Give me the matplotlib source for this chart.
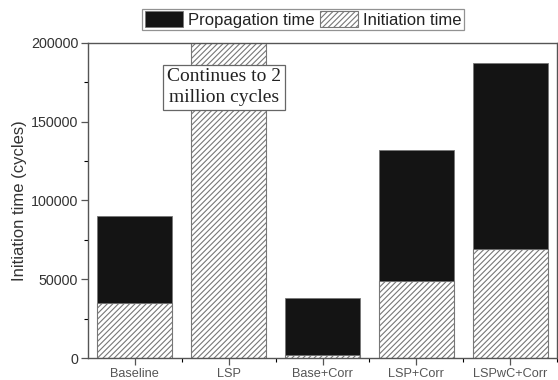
import numpy as np
import matplotlib
matplotlib.use("Agg")
import matplotlib.pyplot as plt
from matplotlib.ticker import MultipleLocator

categories = ["Baseline", "LSP", "Base+Corr", "LSP+Corr", "LSPwC+Corr"]
initiation = [35000, 2000000, 2000, 49000, 69000]
propagation = [55000, 0, 36000, 83000, 118000]

plt.rcParams['font.family'] = ['Liberation Sans', 'DejaVu Sans']
plt.rcParams['hatch.color'] = '#777777'
plt.rcParams['hatch.linewidth'] = 0.8

fig = plt.figure(figsize=(5.58, 3.8), dpi=100)
ax = fig.add_axes([88 / 558, 22 / 380, 469 / 558, 315 / 380])

x = np.arange(len(categories))
b1 = ax.bar(x, initiation, width=0.8, color='white', edgecolor='#777777',
            hatch='//////', linewidth=0.8, label='Initiation time', zorder=2)
b2 = ax.bar(x, propagation, width=0.8, bottom=initiation, color='#141414',
            edgecolor='#777777', linewidth=0.6, label='Propagation time', zorder=2)

ax.set_xlim(-0.5, 4.5)
ax.set_ylim(0, 200000)
ax.set_xticks(x)
ax.set_xticklabels(categories, fontsize=9.2, color='#222222')
ax.set_xticks(x + 0.5, minor=True)
ax.set_yticks([0, 50000, 100000, 150000, 200000])
ax.yaxis.set_minor_locator(MultipleLocator(25000))
ax.tick_params(axis='y', labelsize=10.3, colors='#555555', labelcolor='#333333', pad=2)
ax.tick_params(axis='x', colors='#555555', pad=2.5)
ax.tick_params(which='major', direction='out', length=5, width=0.9)
ax.tick_params(which='minor', direction='out', length=3, width=0.8)
for s in ax.spines.values():
    s.set_color('#555555')
    s.set_linewidth(1.0)

ax.set_ylabel('Initiation time (cycles)', fontsize=12, color='#333333')
ax.yaxis.set_label_coords(-(88 - 27) / 469, 0.5)

ax.text(0.95, 172000, 'Continues to 2\nmillion cycles', family='Liberation Serif',
        fontsize=14, ha='center', va='center', color='#222222', linespacing=1.25,
        bbox=dict(boxstyle='square,pad=0.2', facecolor='white', edgecolor='#666666', linewidth=0.9),
        zorder=3)

leg = fig.legend(handles=[b2, b1], labels=['Propagation time', 'Initiation time'],
                 loc='center', bbox_to_anchor=(303 / 558, 1 - 19.5 / 380), ncol=2,
                 fontsize=12, frameon=True, fancybox=False, edgecolor='#777777',
                 handlelength=2.3, handleheight=1.1, columnspacing=0.3,
                 handletextpad=0.3, borderpad=0.15, borderaxespad=0)
leg.get_frame().set_linewidth(0.9)
for t in leg.get_texts():
    t.set_color('#222222')

plt.savefig('out.png', dpi=100)
